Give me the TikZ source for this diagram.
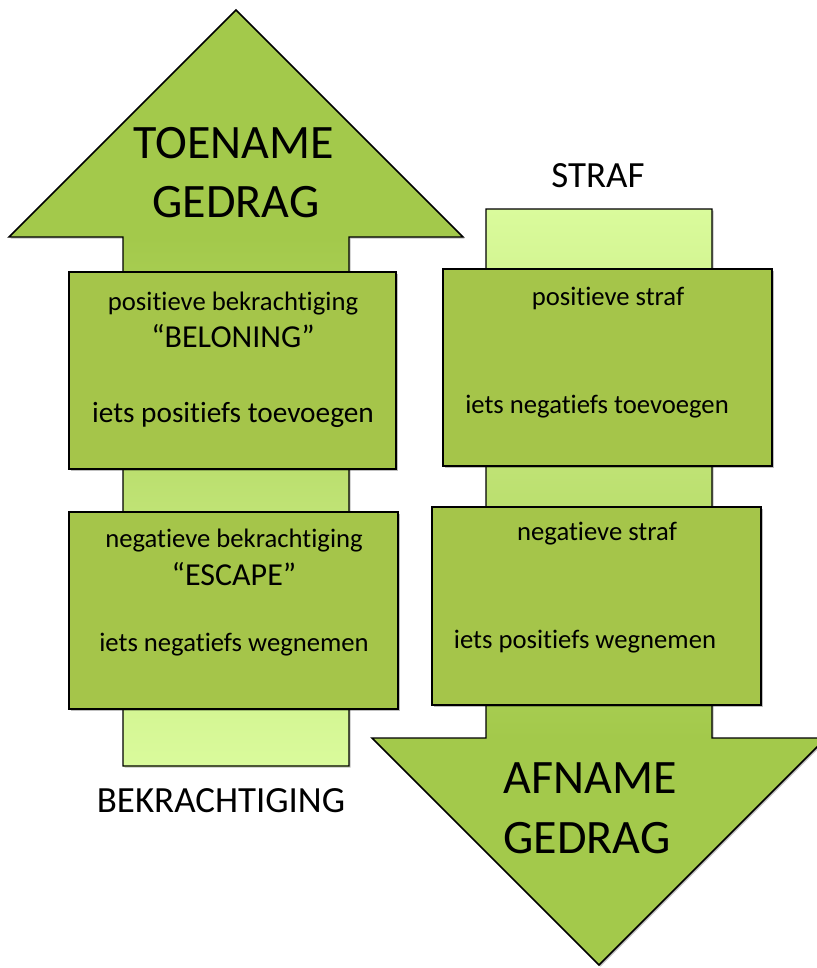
\documentclass[tikz,border=0pt]{standalone}
\usepackage{fontspec}
\setmainfont[Ligatures=NoCommon]{Carlito}
\usetikzlibrary{shadows,fit}
\definecolor{headgreen}{HTML}{A3C94B}
\definecolor{boxgreen}{HTML}{A5C54A}
\definecolor{palegreen}{HTML}{DAFB9C}
\begin{document}
\begin{tikzpicture}[x=0.75pt,y=-0.75pt,
  outline/.style={draw=black, line width=1.1pt, line join=miter},
  softshadow/.style={drop shadow={shadow xshift=1.2pt, shadow yshift=-1.2pt, fill=black, opacity=0.25}},
  greenbox/.style={outline, fill=boxgreen, softshadow, rectangle, inner sep=0pt},
  txt/.style={anchor=base, inner sep=0pt, font=\fontsize{20}{24}\selectfont},
  bigtxt/.style={anchor=base, inner sep=0pt, font=\fontsize{36}{43}\selectfont},
  labeltxt/.style={anchor=base, inner sep=0pt, font=\fontsize{27.7}{33}\selectfont}]
\useasboundingbox (0,0) rectangle (817,968);
% ---- left arrow (up) ----
\path[fill=headgreen, softshadow] (236,10) -- (463,237) -- (349,237) -- (349,766) -- (123,766) -- (123,237) -- (9,237) -- cycle;
\shade[top color=headgreen, bottom color=palegreen] (123,237) rectangle (349,766);
\draw[outline] (236,10) -- (463,237) -- (349,237) -- (349,766) -- (123,766) -- (123,237) -- (9,237) -- cycle;
% ---- right arrow (down) ----
\path[fill=headgreen, softshadow] (599,965) -- (826,738) -- (712,738) -- (712,209) -- (486,209) -- (486,738) -- (372,738) -- cycle;
\shade[top color=palegreen, bottom color=headgreen] (486,209) rectangle (712,738);
\draw[outline] (599,965) -- (826,738) -- (712,738) -- (712,209) -- (486,209) -- (486,738) -- (372,738) -- cycle;
% ---- boxes ----
\node[greenbox, fit={(69,272) (396,469)}] (b1) {};
\node[greenbox, fit={(69,512) (398,709)}] (b2) {};
\node[greenbox, fit={(443,269) (772,466)}] (b3) {};
\node[greenbox, fit={(432,507) (761,705)}] (b4) {};
% ---- texts ----
\node[bigtxt] (toe) at (234,158) {TOENAME};
\node[bigtxt] (toeg) at (236,217) {GEDRAG};
\node[bigtxt] (af) at (590,793) {AFNAME};
\node[bigtxt] (afg) at (587,853) {GEDRAG};
\node[labeltxt] (bekr) at (221,812) {BEKRACHTIGING};
\node[labeltxt] (straf) at (598,187) {STRAF};
\node[txt] (t1) at (233,310) {positieve bekrachtiging};
\node[txt, font=\fontsize{24}{29}\selectfont] (t2) at (233,347) {“BELONING”};
\node[txt, font=\fontsize{22}{26}\selectfont] (t3) at (233,422) {iets positiefs toevoegen};
\node[txt] (t4) at (234,547) {negatieve bekrachtiging};
\node[txt, font=\fontsize{24}{29}\selectfont] (t5) at (234,585) {“ESCAPE”};
\node[txt] (t6) at (234,651) {iets negatiefs wegnemen};
\node[txt] (t7) at (608,305) {positieve straf};
\node[txt] (t8) at (597,413) {iets negatiefs toevoegen};
\node[txt] (t9) at (597,540) {negatieve straf};
\node[txt] (t10) at (585,648) {iets positiefs wegnemen};
\end{tikzpicture}
\end{document}
